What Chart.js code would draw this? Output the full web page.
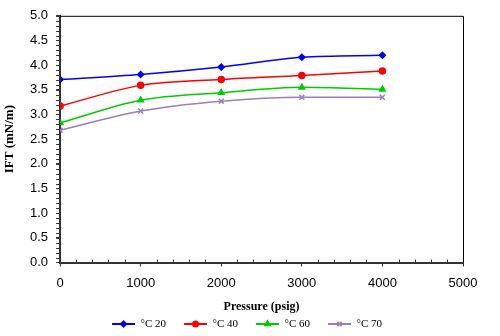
<!DOCTYPE html>
<html>
<head>
<meta charset="utf-8">
<script src="https://cdn.jsdelivr.net/npm/chart.js@4"></script>
<style>
  html, body { margin: 0; padding: 0; background: #fff; }
  #wrap { width: 500px; height: 336px; }
</style>
</head>
<body>
<div id="wrap"><canvas id="c" width="500" height="336"></canvas></div>
<script>
// IFT vs pressure at four temperatures
const pressures = [0, 1000, 2000, 3000, 4000]
const ift20 = [3.71, 3.81, 3.96, 4.16, 4.20]
const ift40 = [3.17, 3.59, 3.71, 3.79, 3.88]
const ift60 = [2.83, 3.29, 3.44, 3.55, 3.51]
const ift70 = [2.68, 3.07, 3.27, 3.35, 3.35]
const seriesLabels = ['°C 20', '°C 40', '°C 60', '°C 70']

const series = [
  { label: seriesLabels[0], values: ift20, color: '#0000ff', style: 'rectRot', r: 3 },
  { label: seriesLabels[1], values: ift40, color: '#ff0000', style: 'circle', r: 3 },
  { label: seriesLabels[2], values: ift60, color: '#00cc00', style: 'triangle', r: 3.2 },
  { label: seriesLabels[3], values: ift70, color: '#9a7fb8', style: 'crossRot', r: 3.5 }
]

const SW = 37 // legend box width, line sits in its right part

// little line+marker swatch for the legend
function swatch(s) {
  const cv = document.createElement('canvas')
  cv.width = SW
  cv.height = 10
  const g = cv.getContext('2d')
  g.strokeStyle = s.color
  g.fillStyle = s.color
  g.lineWidth = 2
  g.beginPath()
  g.moveTo(SW - 23, 5)
  g.lineTo(SW, 5)
  g.stroke()
  Chart.helpers.drawPoint(g, { pointStyle: s.style, radius: s.r - 0.5, borderWidth: 1.2 }, SW - 11.5, 5)
  return cv
}

// frame, minor ticks, legend nudge
const frame = {
  id: 'frame',
  afterLayout(chart) {
    chart.legend.left += 7
    chart.legend.right += 7
  },
  afterDraw(chart) {
    const { ctx, chartArea: a, scales: { x, y } } = chart
    ctx.save()
    ctx.strokeStyle = '#000'
    ctx.lineWidth = 1
    ctx.beginPath()
    ctx.moveTo(a.left, a.top + 0.5)
    ctx.lineTo(a.right + 0.5, a.top + 0.5)
    ctx.lineTo(a.right + 0.5, a.bottom)
    ctx.stroke()
    ctx.strokeStyle = '#333'
    ctx.beginPath()
    for (let v = 0.1; v < 5; v += 0.1) {
      const py = Math.round(y.getPixelForValue(v)) + 0.5
      ctx.moveTo(a.left, py)
      ctx.lineTo(a.left - 4, py)
    }
    for (let v = 200; v < 5000; v += 200) {
      if (v % 1000 === 0) continue
      const px = Math.round(x.getPixelForValue(v)) + 0.5
      ctx.moveTo(px, a.bottom)
      ctx.lineTo(px, a.bottom - 3)
    }
    ctx.stroke()
    ctx.restore()
  }
}

new Chart(document.getElementById('c'), {
  type: 'line',
  data: {
    datasets: series.map(s => ({
      label: s.label,
      data: pressures.map((p, i) => ({ x: p, y: s.values[i] })),
      borderColor: s.color,
      backgroundColor: s.color,
      borderWidth: 1.5,
      pointStyle: s.style,
      pointRadius: s.r,
      pointBorderWidth: 1.5,
      cubicInterpolationMode: 'monotone'
    }))
  },
  options: {
    responsive: false,
    animation: false,
    layout: { padding: { top: 15, right: 37, left: 3, bottom: -3.5 } },
    plugins: {
      legend: {
        position: 'bottom',
        labels: {
          usePointStyle: true,
          pointStyleWidth: SW,
          padding: 4,
          color: '#000',
          font: { family: "'Liberation Serif', serif", size: 11 },
          generateLabels: (chart) => series.map((s, i) => ({
            text: s.label,
            pointStyle: swatch(s),
            fillStyle: s.color,
            strokeStyle: s.color,
            lineWidth: 0,
            hidden: false,
            datasetIndex: i
          }))
        }
      },
      tooltip: { enabled: false }
    },
    scales: {
      x: {
        type: 'linear',
        min: 0,
        max: 5000,
        ticks: {
          stepSize: 1000,
          color: '#000',
          padding: 10,
          maxRotation: 0,
          callback: v => String(v),
          font: { family: "'Liberation Sans', Arial, sans-serif", size: 13, lineHeight: 1 }
        },
        grid: { drawOnChartArea: false, tickLength: 4, color: '#333' },
        border: { color: '#333', width: 2 },
        title: {
          display: true,
          text: 'Pressure (psig)',
          color: '#000',
          font: { family: "'Liberation Serif', serif", size: 12, weight: 'bold', lineHeight: 1 },
          padding: { top: 1, bottom: 2 }
        }
      },
      y: {
        min: 0,
        max: 5,
        ticks: {
          stepSize: 0.5,
          color: '#000',
          padding: 8,
          callback: v => v.toFixed(1),
          font: { family: "'Liberation Sans', Arial, sans-serif", size: 13 }
        },
        grid: { drawOnChartArea: false, tickLength: 4, color: '#333' },
        border: { color: '#333', width: 2 },
        title: {
          display: true,
          text: 'IFT (mN/m)',
          color: '#000',
          font: { family: "'Liberation Serif', serif", size: 13, weight: 'bold', lineHeight: 1 },
          padding: { top: 0, bottom: 6 }
        }
      }
    }
  },
  plugins: [frame]
})
</script>
</body>
</html>
